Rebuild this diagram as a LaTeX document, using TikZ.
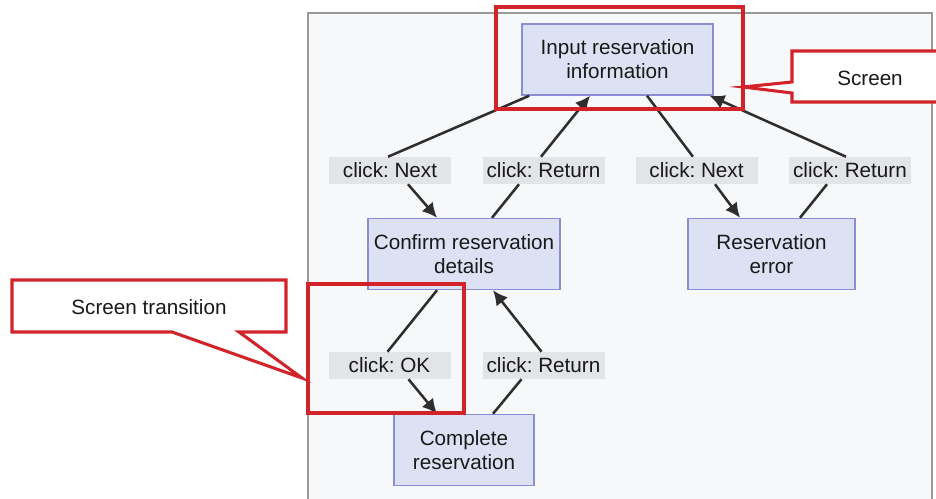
\documentclass[tikz,border=0pt]{standalone}
\usepackage{fontspec}
\setmainfont{Liberation Sans}
\usepackage{xcolor}
\usepackage{tikz}
\usetikzlibrary{arrows.meta,calc}
\frenchspacing

\definecolor{panelgray}{HTML}{F7F8F9}
\definecolor{screenfill}{HTML}{DCE2F3}
\definecolor{screenline}{HTML}{8C8CD2}
\definecolor{labelgray}{HTML}{E2E4E7}
\definecolor{markred}{HTML}{D2232A}
\definecolor{flowgray}{HTML}{2E2E2E}

\tikzset{
  screen/.style={draw=screenline, fill=screenfill, line width=1.1pt, minimum height=53.25pt, inner sep=0pt, align=center},
  event/.style={fill=labelgray, minimum width=91.5pt, minimum height=20.25pt, inner sep=0pt},
  flow/.style={draw=flowgray, line width=1.9pt, -{Latex[length=11pt,width=11pt]}},
  redmark/.style={draw=markred, line width=2.3pt}
}

\begin{document}
\begin{tikzpicture}[x=0.75pt, y=-0.75pt, font=\fontsize{15.5}{18}\selectfont, text=black!90]
    \useasboundingbox (0,0) rectangle (936,499);
    \fill[panelgray] (308,13) rectangle (932,505);
    \draw[gray!80, line width=1.1pt] (308,505) -- (308,13) -- (932,13) -- (932,505);

    \node[screen, minimum width=143.25pt] (inp) at (617.5,59.5) {Input reservation\\information};
    \node[screen, minimum width=144pt] (conf) at (464,254) {Confirm reservation\\details};
    \node[screen, minimum width=125.25pt] (err) at (771.5,254) {Reservation\\error};
    \node[screen, minimum width=105pt] (comp) at (464,450) {Complete\\reservation};

    \node[event] (nextA) at (390,170.5) {click: Next};
    \node[event] (backA) at (543.5,170.5) {click: Return};
    \node[event] (nextB) at (696.5,170.5) {click: Next};
    \node[event] (backB) at (850,170.5) {click: Return};
    \node[event] (okA) at (389.5,365.5) {click: OK};
    \node[event] (backC) at (543.5,365.5) {click: Return};

    \draw[flow] ($(inp.south west)+(8,0)$) -- ($(nextA.north)+(-2,0)$) ($(nextA.south)+(18,0)$) -- ($(conf.north)+(-27,0)$);
    \draw[flow] ($(conf.north)+(28,0)$) -- ($(backA.south)+(-24.5,0)$) ($(backA.north)+(-2.5,0)$) -- ($(inp.south)+(-27.5,0)$);
    \draw[flow] ($(inp.south)+(29.5,0)$) -- ($(nextB.north)+(-3.5,0)$) ($(nextB.south)+(18.5,0)$) -- ($(err.north)+(-31.5,0)$);
    \draw[flow] ($(err.north)+(28.5,0)$) -- ($(backB.south)+(-23,0)$) ($(backB.north)+(-4,0)$) -- ($(inp.south east)+(-4,0)$);
    \draw[flow] ($(conf.south)+(-27,0)$) -- ($(okA.north)+(-2,0)$) ($(okA.south)+(19,0)$) -- ($(comp.north)+(-27,0)$);
    \draw[flow] ($(comp.north)+(29,0)$) -- ($(backC.south)+(-22,0)$) ($(backC.north)+(-2,0)$) -- ($(conf.south)+(29,0)$);

    \draw[redmark, fill=white] (792,51) -- (940,51) -- (940,102) -- (792,102) -- (792,93) -- (743,87) -- (792,82) -- cycle;
    \node (scrtag) at (870,78) {Screen};
    \draw[redmark, fill=white] (12,280) -- (286,280) -- (286,332) -- (239,332) -- (302,378) -- (172,332) -- (12,332) -- cycle;
    \node (movetag) at (149,307) {Screen transition};

    \draw[redmark] (496,7) rectangle (743,109);
    \draw[redmark] (308,284) rectangle (464,413);
\end{tikzpicture}
\end{document}
